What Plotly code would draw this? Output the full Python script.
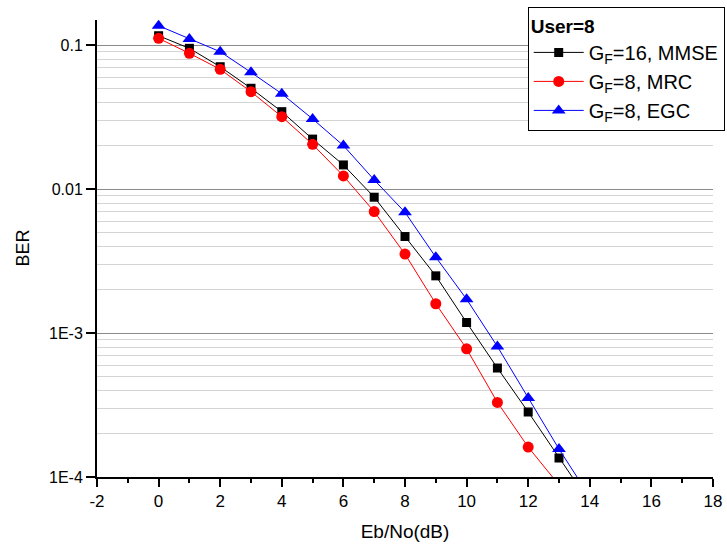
import plotly.graph_objects as go

# Eb/No sweep (dB)
snr_mmse = list(range(0, 15))
snr_mrc = list(range(0, 14))
snr_egc = list(range(0, 15))

# Bit error rate for each receiver, User=8
ber_mmse = [0.1166, 0.0953, 0.0710, 0.0503, 0.0346, 0.0223, 0.01475, 0.00880,
            0.00469, 0.00250, 0.001185, 0.000572, 0.000283, 0.0001355, 0.000066]
ber_mrc = [0.1118, 0.0880, 0.0681, 0.0476, 0.0319, 0.0205, 0.01237, 0.00699,
           0.00354, 0.00160, 0.000778, 0.000330, 0.0001615, 0.000088]
ber_egc = [0.1368, 0.1106, 0.0903, 0.0649, 0.0461, 0.0308, 0.0201, 0.01161,
           0.00691, 0.00337, 0.00172, 0.000807, 0.000354, 0.0001563, 0.000073]

series_names = ["G<sub>F</sub>=16, MMSE", "G<sub>F</sub>=8, MRC", "G<sub>F</sub>=8, EGC"]
legend_title = "<b>User=8</b>"

x_tick_vals = list(range(-2, 19, 2))
x_tick_text = [str(v) for v in x_tick_vals]

y_major_vals = [1e-4, 1e-3, 1e-2, 1e-1]
y_major_text = ["1E-4", "1E-3", "0.01", "0.1"]
decades = [1e-4, 1e-3, 1e-2]
y_minor_grid = [k * d for d in decades for k in range(2, 10)]
y_minor_ticks = [k * d for d in decades for k in (7, 8, 9)]

FONT = "Arial, Liberation Sans, sans-serif"
y_range = [-4, -0.824]

fig = go.Figure()
fig.add_trace(go.Scatter(
    x=snr_mmse, y=ber_mmse, name=series_names[0], mode="lines+markers",
    line=dict(color="black", width=1),
    marker=dict(symbol="square", size=9, color="black"),
))
fig.add_trace(go.Scatter(
    x=snr_mrc, y=ber_mrc, name=series_names[1], mode="lines+markers",
    line=dict(color="#ff0000", width=1),
    marker=dict(symbol="circle", size=11, color="#ff0000"),
))
fig.add_trace(go.Scatter(
    x=snr_egc, y=ber_egc, name=series_names[2], mode="lines+markers",
    line=dict(color="#0000ff", width=1),
    marker=dict(symbol="triangle-up", size=12, color="#0000ff"),
))

fig.update_layout(
    width=727, height=550,
    margin=dict(l=97, r=14, t=20, b=73, autoexpand=False),
    plot_bgcolor="white", paper_bgcolor="white",
    font=dict(family=FONT, color="black", size=16),
    showlegend=True,
    legend=dict(
        title=dict(text=legend_title, font=dict(size=19, family=FONT), side="top"),
        x=1.019, xanchor="right", y=1.028, yanchor="top",
        bgcolor="white", bordercolor="black", borderwidth=1,
        font=dict(size=20, family=FONT), itemwidth=50, tracegroupgap=0,
    ),
    xaxis=dict(
        range=[-2, 18], tickmode="array", tickvals=x_tick_vals, ticktext=x_tick_text,
        showline=True, linecolor="black", linewidth=2,
        ticks="outside", ticklen=8, tickwidth=1.5, tickcolor="black",
        showgrid=False, zeroline=False,
        minor=dict(dtick=1, tick0=0, ticks="outside", ticklen=4, tickcolor="black", tickwidth=1.5),
        tickfont=dict(size=17),
        title=dict(text="Eb/No(dB)", font=dict(size=19), standoff=14),
    ),
    yaxis=dict(
        type="log", range=y_range,
        tickmode="array", tickvals=y_major_vals, ticktext=y_major_text,
        showline=True, linecolor="black", linewidth=2,
        ticks="outside", ticklen=9, tickwidth=1.5, tickcolor="black",
        showgrid=True, gridcolor="#8c8c8c", gridwidth=1,
        zeroline=False,
        minor=dict(tickmode="array", tickvals=y_minor_grid, ticks="",
                   showgrid=True, gridcolor="#d4d4d4", gridwidth=1),
        tickfont=dict(size=16),
    ),
    yaxis2=dict(
        type="log", range=y_range, overlaying="y", side="left",
        tickmode="array", tickvals=y_minor_ticks, showticklabels=False,
        ticks="outside", ticklen=5, tickwidth=1.5, tickcolor="black",
        showgrid=False, showline=False, zeroline=False,
    ),
    annotations=[dict(
        text="BER", textangle=-90, xref="paper", yref="paper",
        x=(22 - 97) / 616, y=0.5, xanchor="center", yanchor="middle",
        showarrow=False, font=dict(size=18, family=FONT),
    )],
)

fig.write_html("out.html")
